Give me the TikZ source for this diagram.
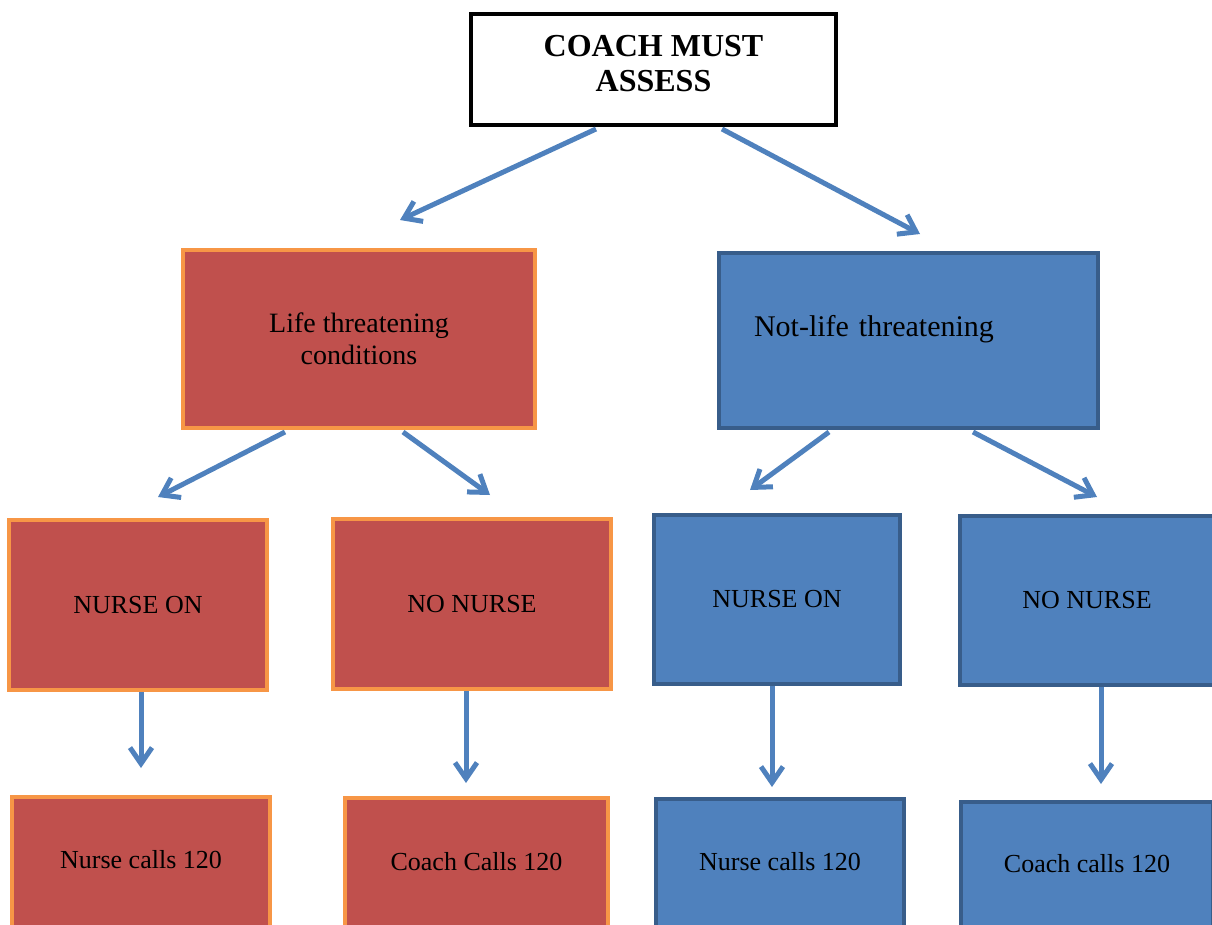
\documentclass[tikz,border=0pt]{standalone}
\usepackage{fontspec}
\setmainfont{Liberation Serif}
\usetikzlibrary{arrows.meta}
\definecolor{cmred}{HTML}{C0504D}
\definecolor{cmorange}{HTML}{F79646}
\definecolor{cmblue}{HTML}{4F81BD}
\definecolor{cmnavy}{HTML}{385D8A}

\begin{document}
\begin{tikzpicture}[x=1pt, y=-1pt, >={Straight Barb[length=16pt, width=22pt]}]
  \tikzset{
    redbox/.style={draw=cmorange, fill=cmred, line width=4pt, inner sep=0pt,
      align=center, font=\fontsize{26}{31}\selectfont},
    bluebox/.style={draw=cmnavy, fill=cmblue, line width=4pt, inner sep=0pt,
      align=center, font=\fontsize{26}{31}\selectfont},
    flow/.style={->, cmblue, line width=5pt}
  }
  \useasboundingbox (0,0) rectangle (1212,925);
  \clip (0,0) rectangle (1212,925);
  \node[draw=black, fill=white, line width=4pt, minimum width=365, minimum height=111,
    align=center, font=\bfseries\fontsize{32}{35}\selectfont]
    (assess) at (653.5,69.5) {COACH MUST\\ASSESS\rule[-12pt]{0pt}{12pt}};
  % Life threatening branch
  \node[redbox, minimum width=352, minimum height=178, font=\fontsize{28}{32}\selectfont]
    (life) at (359,339) {Life threatening\\conditions};
  \node[redbox, minimum width=258, minimum height=170] (lnurse) at (138,605) {NURSE ON};
  \node[redbox, minimum width=278, minimum height=170] (lnone) at (472,604) {NO NURSE};
  \node[redbox, minimum width=258, minimum height=170]
    (lnursecall) at (141,882) {\raisebox{14pt}[0pt][0pt]{Nurse calls 120}};
  \node[redbox, minimum width=263, minimum height=170]
    (lcoachcall) at (476.5,883) {\raisebox{13pt}[0pt][0pt]{Coach Calls 120}};
  % Not-life threatening branch
  \node[bluebox, minimum width=379, minimum height=175, inner xsep=35pt, text width=309pt,
    align=left, font=\fontsize{30}{32}\selectfont]
    (notlife) at (908.5,340.5) {\raisebox{4.5pt}[0pt][0pt]{Not-life threatening}};
  \node[bluebox, minimum width=246, minimum height=169] (nnurse) at (777,599.5) {NURSE ON};
  \node[bluebox, minimum width=254, minimum height=169] (nnone) at (1087,600.5) {NO NURSE};
  \node[bluebox, minimum width=248, minimum height=170]
    (nnursecall) at (780,884) {\raisebox{14pt}[0pt][0pt]{Nurse calls 120}};
  \node[bluebox, minimum width=252, minimum height=170]
    (ncoachcall) at (1087,887) {\raisebox{15pt}[0pt][0pt]{Coach calls 120}};
  % free arrow ends
  \coordinate (t1) at (400,220);
  \coordinate (t2) at (920,234);
  \coordinate (l1) at (158,497);
  \coordinate (l2) at (490,495);
  \coordinate (n1) at (750,490);
  \coordinate (n2) at (1097,497);
  \coordinate (v1) at (141,768);
  \coordinate (v2) at (466,783);
  \coordinate (v3) at (772,787);
  \coordinate (v4) at (1101,784);
  \draw[flow] ([xshift=-57.5pt, yshift=-2pt]assess.south) -- (t1);
  \draw[flow] ([xshift=68.5pt, yshift=-2pt]assess.south) -- (t2);
  \draw[flow] ([xshift=-74pt, yshift=-2pt]life.south) -- (l1);
  \draw[flow] ([xshift=44pt, yshift=-2pt]life.south) -- (l2);
  \draw[flow] ([xshift=-79.5pt, yshift=-2pt]notlife.south) -- (n1);
  \draw[flow] ([xshift=64.5pt, yshift=-2pt]notlife.south) -- (n2);
  \draw[flow] ([xshift=3pt]lnurse.south) -- (v1);
  \draw[flow] ([xshift=-6pt]lnone.south) -- (v2);
  \draw[flow] ([xshift=-5pt]nnurse.south) -- (v3);
  \draw[flow] ([xshift=14pt]nnone.south) -- (v4);
\end{tikzpicture}
\end{document}
